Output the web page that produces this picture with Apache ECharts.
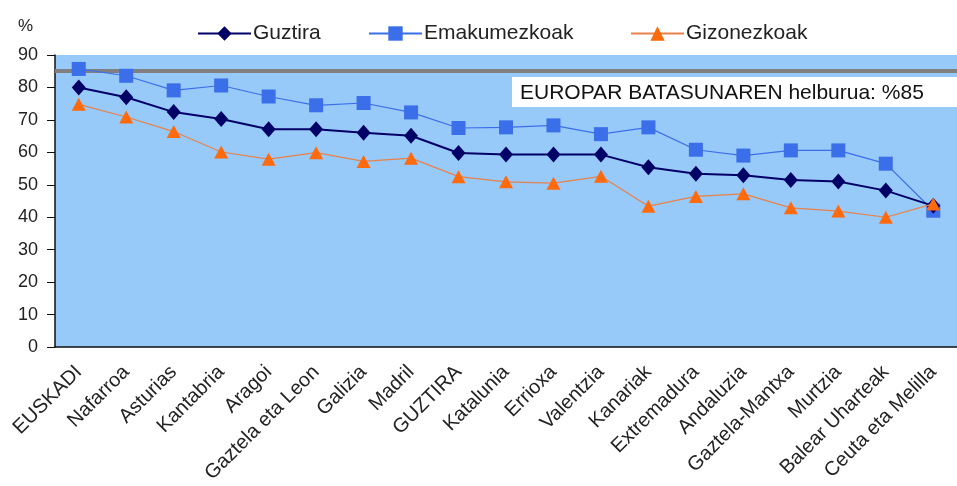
<!DOCTYPE html>
<html>
<head>
<meta charset="utf-8">
<script src="https://cdn.jsdelivr.net/npm/echarts@6/dist/echarts.min.js"></script>
<style>
  html, body { margin: 0; padding: 0; background: #fff; }
  #chart { width: 957px; height: 486px; }
</style>
</head>
<body>
<div id="chart"></div>
<script>
// Eskualdeak (kategoriak)
const regions = [
  'EUSKADI', 'Nafarroa', 'Asturias', 'Kantabria', 'Aragoi', 'Gaztela eta Leon',
  'Galizia', 'Madril', 'GUZTIRA', 'Katalunia', 'Errioxa', 'Valentzia', 'Kanariak',
  'Extremadura', 'Andaluzia', 'Gaztela-Mantxa', 'Murtzia', 'Balear Uharteak', 'Ceuta eta Melilla'
]

// Balioak (%)
const guztira = [80.0, 77.0, 72.4, 70.3, 67.1, 67.1, 66.0, 65.1, 59.8, 59.3, 59.3, 59.3, 55.4, 53.4, 52.9, 51.5, 51.0, 48.2, 43.5]
const emakumezkoak = [85.7, 83.6, 79.1, 80.6, 77.2, 74.5, 75.2, 72.3, 67.5, 67.7, 68.3, 65.6, 67.7, 60.8, 59.0, 60.6, 60.6, 56.5, 42.0]
const gizonezkoak = [74.8, 70.9, 66.4, 60.1, 57.9, 59.9, 57.2, 58.2, 52.5, 50.9, 50.5, 52.6, 43.4, 46.4, 47.2, 42.9, 41.9, 40.0, 44.1]

// Ardatzeko balioak
const yTicks = [0, 10, 20, 30, 40, 50, 60, 70, 80, 90]
const targetValue = 85

const FONT = '"Liberation Sans", Arial, sans-serif'
const chart = echarts.init(document.getElementById('chart'))

const legendBase = {
  top: 18,
  itemWidth: 53,
  itemHeight: 18,
  itemGap: 0,
  textStyle: { fontFamily: FONT, fontSize: 21, color: '#222', padding: [0, 0, 0, -3] },
}

const option = {
  animation: false,
  backgroundColor: '#fff',
  title: {
    text: '%',
    left: 13,
    top: 13,
    textStyle: { fontFamily: FONT, fontSize: 17, fontWeight: 'normal', color: '#222' },
  },
  legend: [
    { ...legendBase, left: 192, data: ['Guztira'] },
    { ...legendBase, left: 363, data: ['Emakumezkoak'] },
    { ...legendBase, left: 625, data: ['Gizonezkoak'] },
  ],
  grid: {
    left: 55,
    top: 55,
    width: 912,
    height: 292,
    show: true,
    backgroundColor: '#97c9f9',
    borderWidth: 0,
  },
  xAxis: {
    type: 'category',
    data: regions,
    boundaryGap: true,
    axisLine: { lineStyle: { color: '#111', width: 1.5 } },
    axisTick: { length: 6, lineStyle: { color: '#111' } },
    axisLabel: {
      rotate: 45,
      margin: 22,
      interval: 0,
      fontFamily: FONT,
      fontSize: 20,
      color: '#222',
    },
  },
  yAxis: {
    type: 'value',
    min: yTicks[0],
    max: yTicks[yTicks.length - 1],
    interval: 10,
    splitLine: { show: false },
    axisLine: { show: true, lineStyle: { color: '#111', width: 1.5 } },
    axisTick: { show: true, length: 8, lineStyle: { color: '#111' } },
    axisLabel: { margin: 17, fontFamily: FONT, fontSize: 18, color: '#222' },
  },
  graphic: [
    {
      type: 'rect',
      left: 512,
      top: 77,
      shape: { width: 460, height: 30 },
      style: { fill: '#fff' },
      z: 10,
    },
    {
      type: 'text',
      left: 520,
      top: 83,
      style: {
        text: 'EUROPAR BATASUNAREN helburua: %85',
        fontFamily: FONT,
        fontSize: 21,
        fill: '#111',
      },
      z: 11,
    },
  ],
  series: [
    {
      name: 'Emakumezkoak',
      type: 'line',
      data: emakumezkoak,
      symbol: 'rect',
      symbolSize: 14,
      itemStyle: { color: '#3b6fe9' },
      lineStyle: { color: '#3b6fe9', width: 1.2 },
      z: 3,
      markLine: {
        silent: true,
        symbol: 'none',
        label: { show: false },
        lineStyle: { color: '#808080', width: 4, type: 'solid' },
        data: [{ yAxis: targetValue }],
        z: 2,
      },
    },
    {
      name: 'Guztira',
      type: 'line',
      data: guztira,
      symbol: 'diamond',
      symbolSize: [14, 16],
      itemStyle: { color: '#000066' },
      lineStyle: { color: '#000066', width: 2 },
      z: 4,
    },
    {
      name: 'Gizonezkoak',
      type: 'line',
      data: gizonezkoak,
      symbol: 'triangle',
      symbolSize: [14, 13],
      itemStyle: { color: '#ff6a0d' },
      lineStyle: { color: '#e8824a', width: 1.2 },
      z: 5,
    },
  ],
}

chart.setOption(option)
</script>
</body>
</html>
